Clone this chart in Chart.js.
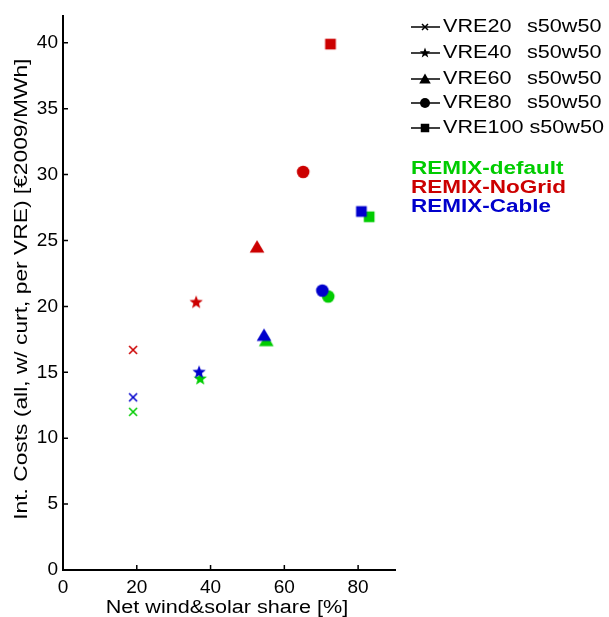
<!DOCTYPE html>
<html>
<head>
<meta charset="utf-8">
<script src="https://cdn.jsdelivr.net/npm/chart.js@4/dist/chart.umd.min.js"></script>
<style>
  html, body { margin: 0; padding: 0; background: #fff; }
  #wrap { width: 609px; height: 617px; position: relative; }
</style>
</head>
<body>
<div id="wrap"><canvas id="scatterChart" width="609" height="617"></canvas></div>
<script>
const scenarios = ['VRE20', 'VRE40', 'VRE60', 'VRE80', 'VRE100']
const scenarioSuffix = 's50w50'
const markerShapes = ['cross', 'star', 'triangle', 'circle', 'square']

const variants = ['REMIX-default', 'REMIX-NoGrid', 'REMIX-Cable']
const variantColors = ['rgb(0,204,0)', 'rgb(204,0,0)', 'rgb(0,0,204)']

// net wind & solar share [%]
const shareDefault = [19.0, 37.2, 55.1, 71.9, 83.0]
const shareNoGrid = [19.0, 36.1, 52.6, 65.1, 72.5]
const shareCable = [19.0, 36.9, 54.5, 70.3, 80.9]

// integration costs [EUR2009/MWh]
const costDefault = [12.0, 14.5, 17.4, 20.75, 26.8]
const costNoGrid = [16.7, 20.3, 24.5, 30.2, 39.9]
const costCable = [13.1, 15.0, 17.8, 21.2, 27.2]

const xTicks = [0, 20, 40, 60, 80]
const yTicks = [0, 5, 10, 15, 20, 25, 30, 35, 40]

const xTitle = 'Net wind&solar share [%]'
const yTitle = 'Int. Costs (all, w/ curt, per VRE) [€2009/MWh]'

const FONT = '"Liberation Sans", Arial, sans-serif'
const STRETCH = 1.2

function drawShape(ctx, shape, x, y, r) {
    ctx.beginPath()
    if (shape === 'cross') {
        ctx.moveTo(x - r, y - r); ctx.lineTo(x + r, y + r)
        ctx.moveTo(x + r, y - r); ctx.lineTo(x - r, y + r)
        ctx.stroke()
        return
    }
    if (shape === 'star') {
        for (let i = 0; i < 10; i++) {
            const rad = i % 2 === 0 ? r : r * 0.42
            const a = -Math.PI / 2 + i * Math.PI / 5
            const px = x + rad * Math.cos(a), py = y + rad * Math.sin(a)
            if (i === 0) ctx.moveTo(px, py); else ctx.lineTo(px, py)
        }
    } else if (shape === 'triangle') {
        ctx.moveTo(x, y - r)
        ctx.lineTo(x + r * 1.05, y + r * 0.8)
        ctx.lineTo(x - r * 1.05, y + r * 0.8)
    } else if (shape === 'circle') {
        ctx.arc(x, y, r, 0, Math.PI * 2)
    } else if (shape === 'square') {
        ctx.rect(x - r * 0.85, y - r * 0.85, r * 1.7, r * 1.7)
    }
    ctx.closePath()
    ctx.fill()
}

function makeMarker(shape, color) {
    const size = 18
    const c = document.createElement('canvas')
    c.width = size; c.height = size
    const ctx = c.getContext('2d')
    ctx.fillStyle = color
    ctx.strokeStyle = color
    ctx.lineWidth = 1.6
    const r = { cross: 4, star: 7, triangle: 7, circle: 6.3, square: 6.3 }[shape]
    drawShape(ctx, shape, size / 2, size / 2, r)
    return c
}

function buildPoints(shares, costs) {
    return shares.map((s, i) => ({ x: s, y: costs[i] }))
}

// text is a bit wide in the original, stretch it horizontally
function wideText(ctx, text, x, y, sx, angle) {
    ctx.save()
    ctx.translate(x, y)
    if (angle) ctx.rotate(angle)
    ctx.scale(sx, 1)
    ctx.fillText(text, 0, 0)
    ctx.restore()
}

const inwardTicks = {
    id: 'inwardTicks',
    afterDraw(chart) {
        const ctx = chart.ctx
        const xs = chart.scales.x, ys = chart.scales.y
        const area = chart.chartArea
        ctx.save()
        ctx.strokeStyle = '#000'
        ctx.lineWidth = 1.5
        ctx.beginPath()
        for (const v of xTicks) {
            const px = xs.getPixelForValue(v)
            ctx.moveTo(px, area.bottom); ctx.lineTo(px, area.bottom - 5)
        }
        for (const v of yTicks) {
            const py = ys.getPixelForValue(v)
            ctx.moveTo(area.left, py); ctx.lineTo(area.left + 5, py)
        }
        ctx.stroke()

        // axis titles
        ctx.fillStyle = '#000'
        ctx.font = '18px ' + FONT
        ctx.textAlign = 'center'
        ctx.textBaseline = 'alphabetic'
        wideText(ctx, xTitle, (area.left + area.right) / 2 - 2, 613, STRETCH, 0)
        ctx.font = '19px ' + FONT
        wideText(ctx, yTitle, 27, (area.top + area.bottom) / 2 - 4, STRETCH, -Math.PI / 2)
        ctx.restore()
    }
}

const sideLegend = {
    id: 'sideLegend',
    afterDraw(chart) {
        const ctx = chart.ctx
        ctx.save()
        ctx.textBaseline = 'middle'
        ctx.textAlign = 'left'
        ctx.font = '18px ' + FONT
        ctx.fillStyle = '#000'
        ctx.strokeStyle = '#000'
        const rowsY = [27, 53, 79, 103, 128]
        scenarios.forEach((name, i) => {
            const y = rowsY[i]
            ctx.lineWidth = 1.5
            ctx.beginPath()
            ctx.moveTo(411, y); ctx.lineTo(440, y)
            ctx.stroke()
            const r = { cross: 3, star: 5.5, triangle: 5.5, circle: 5, square: 5 }[markerShapes[i]]
            drawShape(ctx, markerShapes[i], 425, y, r)
            wideText(ctx, name, 443, y, STRETCH, 0)
            const nameEnd = 443 + ctx.measureText(name + ' ').width * STRETCH
            wideText(ctx, scenarioSuffix, Math.max(527, nameEnd), y, STRETCH, 0)
        })
        ctx.font = 'bold 18px ' + FONT
        const varY = [169, 188, 207]
        variants.forEach((v, i) => {
            ctx.fillStyle = variantColors[i]
            wideText(ctx, v, 411, varY[i], 1.25, 0)
        })
        ctx.restore()
    }
}

document.addEventListener('DOMContentLoaded', function(){
    const canvas = document.getElementById('scatterChart').getContext('2d')
    const seriesShares = [shareDefault, shareNoGrid, shareCable]
    const seriesCosts = [costDefault, costNoGrid, costCable]
    // draw order: dataset 0 ends up on top, so Cable first
    const drawOrder = [2, 1, 0]
    const datasets = drawOrder.map(k => ({
        label: variants[k],
        data: buildPoints(seriesShares[k], seriesCosts[k]),
        pointStyle: markerShapes.map(s => makeMarker(s, variantColors[k])),
        backgroundColor: variantColors[k],
        borderColor: variantColors[k],
        showLine: false
    }))

    new Chart(canvas, {
        type: 'scatter',
        data: { datasets: datasets },
        plugins: [inwardTicks, sideLegend],
        options: {
            responsive: false,
            animation: false,
            layout: { padding: { left: 0, top: 12, right: 214, bottom: 0 } },
            plugins: {
                legend: { display: false },
                tooltip: { enabled: false }
            },
            scales: {
                x: {
                    type: 'linear',
                    min: 0,
                    max: 90,
                    afterBuildTicks: scale => { scale.ticks = xTicks.map(v => ({ value: v })) },
                    afterFit: scale => { scale.height = 47 },
                    grid: { display: false, drawTicks: false },
                    border: { display: true, color: '#000', width: 2 },
                    ticks: { color: '#000', padding: 6, font: { family: FONT, size: 19 }, maxRotation: 0 },
                    title: { display: false }
                },
                y: {
                    type: 'linear',
                    min: 0,
                    max: 42,
                    afterBuildTicks: scale => { scale.ticks = yTicks.map(v => ({ value: v })) },
                    afterFit: scale => { scale.width = 63 },
                    grid: { display: false, drawTicks: false },
                    border: { display: true, color: '#000', width: 2 },
                    ticks: { color: '#000', padding: 5, font: { family: FONT, size: 19 } },
                    title: { display: false }
                }
            }
        }
    })
})
</script>
</body>
</html>
